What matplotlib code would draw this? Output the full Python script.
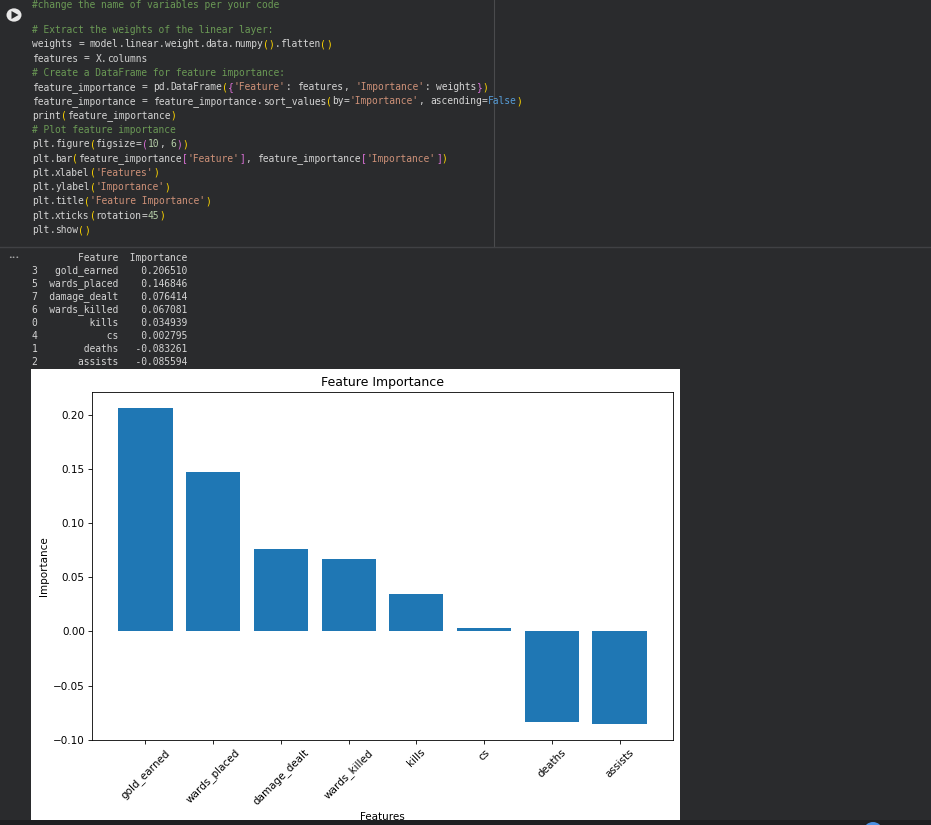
import re
import matplotlib
matplotlib.use("Agg")
import matplotlib.pyplot as plt
from matplotlib.patches import Rectangle, Circle, Polygon

# ---------------- data ----------------
features = ["gold_earned", "wards_placed", "damage_dealt", "wards_killed",
            "kills", "cs", "deaths", "assists"]
importance = [0.206510, 0.146846, 0.076414, 0.067081,
              0.034939, 0.002795, -0.083261, -0.085594]
row_index = ["3", "5", "7", "6", "0", "4", "1", "2"]

code_lines = [
    "#change the name of variables per your code",
    "",
    "# Extract the weights of the linear layer:",
    "weights = model.linear.weight.data.numpy().flatten()",
    "features = X.columns",
    "# Create a DataFrame for feature importance:",
    "feature_importance = pd.DataFrame({'Feature': features, 'Importance': weights})",
    "feature_importance = feature_importance.sort_values(by='Importance', ascending=False)",
    "print(feature_importance)",
    "# Plot feature importance",
    "plt.figure(figsize=(10, 6))",
    "plt.bar(feature_importance['Feature'], feature_importance['Importance'])",
    "plt.xlabel('Features')",
    "plt.ylabel('Importance')",
    "plt.title('Feature Importance')",
    "plt.xticks(rotation=45)",
    "plt.show()",
]

# ---------------- figure ----------------
W, H = 931, 825
BG = "#2a2b2d"
fig = plt.figure(figsize=(W / 100, H / 100), dpi=100, facecolor=BG)

def fx(x):
    return x / W

def fy(y):
    return 1 - y / H

MONO = "DejaVu Sans Mono"
FS = 6.9
CW = 5.77  # px per char

C_DEF = "#d4d4d4"
C_COM = "#6a9955"
C_STR = "#ce9178"
C_NUM = "#b5cea8"
C_KW = "#569cd6"
BR_COLS = ["#ffd700", "#da70d6", "#179fff"]

tok_re = re.compile(r"(#.*$)|('[^']*')|(\d+)|(False|True|None)|([\(\[\{])|([\)\]\}])|([A-Za-z_][A-Za-z_0-9]*)|(\s+)|(.)")

def draw_code_line(line, x0, y, color_default=C_DEF):
    depth = 0
    col = 0
    for m in tok_re.finditer(line):
        t = m.group(0)
        if m.group(1):
            c = C_COM
        elif m.group(2):
            c = C_STR
        elif m.group(3):
            c = C_NUM
        elif m.group(4):
            c = C_KW
        elif m.group(5):
            c = BR_COLS[depth % 3]
            depth += 1
        elif m.group(6):
            depth -= 1
            c = BR_COLS[depth % 3]
        else:
            c = color_default
        if t.strip():
            fig.text(fx(x0 + col * CW), fy(y), t, fontfamily=MONO, fontsize=FS,
                     color=c, va="center", ha="left")
        col += len(t)

# code cell
line_ys = [4.5] + [1.4 + i * 14.29 for i in range(1, len(code_lines))]
for ln, y in zip(code_lines, line_ys):
    draw_code_line(ln, 32, y)

# run button
fig.patches.append(Circle((fx(14), fy(15)), 7.5 / W, transform=fig.transFigure,
                          facecolor="#e8e8e8", edgecolor="none"))
fig.patches.append(Polygon([(fx(11.5), fy(11)), (fx(11.5), fy(19)), (fx(18.5), fy(15))],
                           closed=True, transform=fig.transFigure,
                           facecolor="#2a2b2d", edgecolor="none"))
# separators
fig.lines.append(plt.Line2D([fx(494), fx(494)], [fy(0), fy(246)], transform=fig.transFigure,
                            color="#4a4b4d", lw=0.8))
fig.lines.append(plt.Line2D([0, 1], [fy(246.5), fy(246.5)], transform=fig.transFigure,
                            color="#404144", lw=1.0))
fig.patches.append(Rectangle((0, 0), 1, 5 / H, transform=fig.transFigure,
                             facecolor="#1f2022", edgecolor="none"))
fig.patches.append(Circle((fx(873), fy(830)), 9 / W, transform=fig.transFigure,
                          facecolor="#4a90e2", edgecolor="none"))

# output "..."
fig.text(fx(14), fy(258), "\u2022\u2022\u2022", fontsize=4.5, color="#b0b0b0",
         ha="center", va="center")

# printed dataframe
out_lines = ["   " + "Feature".rjust(12) + "  " + "Importance"]
for idx, f, v in zip(row_index, features, importance):
    out_lines.append(idx + "  " + f.rjust(12) + "  " + ("%.6f" % v).rjust(10))
for i, ln in enumerate(out_lines):
    fig.text(fx(32), fy(258 + i * 13), ln, fontfamily=MONO, fontsize=FS,
             color="#d4d4d4", va="center", ha="left")

# white image background for the chart
fig.patches.append(Rectangle((fx(31), fy(820)), 649 / W, 451 / H, transform=fig.transFigure,
                             facecolor="white", edgecolor="none", zorder=-5))

# ---------------- chart ----------------
ax = fig.add_axes([fx(92), fy(740), 581 / W, 348 / H])
ax.set_zorder(2)
ax.bar(features, importance, color="#1f77b4")
ax.set_title("Feature Importance", fontsize=9, pad=4.5)
ax.set_xlabel("Features", fontsize=7.5, labelpad=3)
ax.set_ylabel("Importance", fontsize=7.5, labelpad=3)
ax.tick_params(labelsize=7.5, length=2.6, width=0.6, pad=2.6)
plt.setp(ax.get_xticklabels(), rotation=45)
for s in ax.spines.values():
    s.set_linewidth(0.6)

fig.savefig("out.png", dpi=100, facecolor=BG)
